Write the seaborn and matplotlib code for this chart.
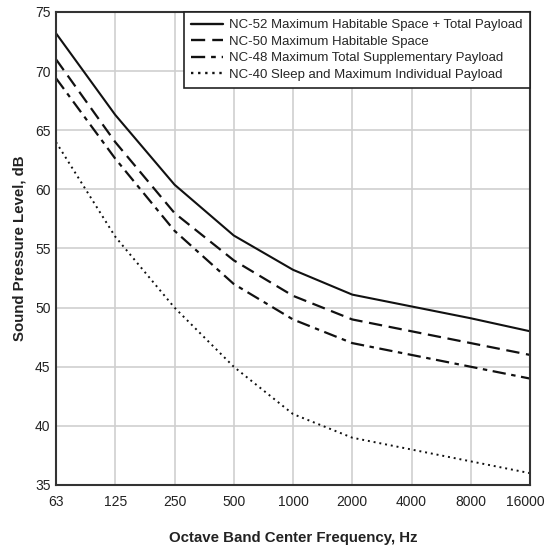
import matplotlib
matplotlib.use("Agg")
import matplotlib.pyplot as plt
import matplotlib.transforms as mtransforms
import seaborn as sns
import pandas as pd

freq_labels = ["63", "125", "250", "500", "1000", "2000", "4000", "8000", "16000"]
nc52 = [73.2, 66.3, 60.4, 56.1, 53.2, 51.1, 50.1, 49.1, 48.0]
nc50 = [71.0, 64.0, 58.0, 54.0, 51.0, 49.0, 48.0, 47.0, 46.0]
nc48 = [69.4, 62.6, 56.5, 52.0, 49.0, 47.0, 46.0, 45.0, 44.0]
nc40 = [64.0, 56.0, 50.0, 45.0, 41.0, 39.0, 38.0, 37.0, 36.0]
series_names = [
    "NC-52 Maximum Habitable Space + Total Payload",
    "NC-50 Maximum Habitable Space",
    "NC-48 Maximum Total Supplementary Payload",
    "NC-40 Sleep and Maximum Individual Payload",
]

rows = []
for name, vals in zip(series_names, [nc52, nc50, nc48, nc40]):
    for i, v in enumerate(vals):
        rows.append({"pos": i, "spl": v, "series": name})
df = pd.DataFrame(rows)

sns.set_theme(style="whitegrid")
plt.rcParams["font.family"] = ["Liberation Sans", "DejaVu Sans"]

fig = plt.figure(figsize=(5.46, 5.50), dpi=100)
ax = fig.add_axes([56/546, 1 - 485/550, (530-56)/546, (485-12)/550])

dashes = {
    series_names[0]: "",
    series_names[1]: (6, 3),
    series_names[2]: (6, 2.5, 2, 2.5),
    series_names[3]: (1, 2),
}
sizes = {series_names[0]: 1.5, series_names[1]: 1.6, series_names[2]: 1.6, series_names[3]: 1.4}

sns.lineplot(data=df, x="pos", y="spl", hue="series", style="series",
             palette=["#111111"] * 4, dashes=dashes, hue_order=series_names,
             style_order=series_names, ax=ax, linewidth=1.5)
for line, name in zip(ax.get_lines()[:4], series_names):
    line.set_linewidth(sizes[name])

ax.set_xlim(0, 8)
ax.set_ylim(35, 75)
ax.set_xticks(range(len(freq_labels)))
ax.set_xticklabels(freq_labels)
ax.set_yticks(range(35, 76, 5))
ax.tick_params(axis="both", labelsize=10, colors="#222222", length=0)
ax.tick_params(axis="x", pad=7)
ax.tick_params(axis="y", pad=4)
# nudge the last x tick label left so it stays inside the figure
last = ax.get_xticklabels()[-1]
last.set_transform(last.get_transform() + mtransforms.ScaledTranslation(-5/100, 0, fig.dpi_scale_trans))
ax.grid(True, color="#cfcfcf", linewidth=1.2)
for s in ax.spines.values():
    s.set_color("#333333")
    s.set_linewidth(1.5)
ax.set_xlabel("Octave Band Center Frequency, Hz", fontsize=10.8, fontweight="bold",
              color="#222222", labelpad=16)
ax.set_ylabel("Sound Pressure Level, dB", fontsize=10.8, fontweight="bold",
              color="#222222", labelpad=6)

leg = ax.legend(loc="upper right", fontsize=9.5, frameon=True, fancybox=False,
                edgecolor="#222222", borderpad=0.55, handlelength=2.4,
                handletextpad=0.5, labelspacing=0.32, borderaxespad=0)
leg.get_frame().set_linewidth(1.2)
leg.get_frame().set_alpha(1)
for h in leg.get_lines():
    h.set_linewidth(1.7)

fig.savefig("out.png", dpi=100, facecolor="white")
